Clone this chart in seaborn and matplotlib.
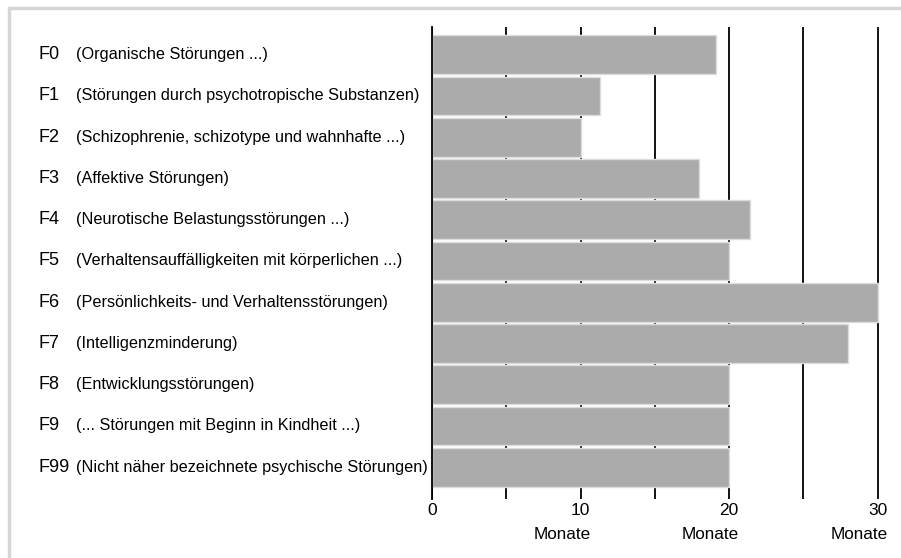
import matplotlib
matplotlib.use("Agg")
import matplotlib.pyplot as plt
import matplotlib.transforms as mtransforms
from matplotlib.lines import Line2D
import seaborn as sns

# Daten
codes = ["F0", "F1", "F2", "F3", "F4", "F5", "F6", "F7", "F8", "F9", "F99"]
beschreibungen = [
    "(Organische Störungen ...)",
    "(Störungen durch psychotropische Substanzen)",
    "(Schizophrenie, schizotype und wahnhafte ...)",
    "(Affektive Störungen)",
    "(Neurotische Belastungsstörungen ...)",
    "(Verhaltensauffälligkeiten mit körperlichen ...)",
    "(Persönlichkeits- und Verhaltensstörungen)",
    "(Intelligenzminderung)",
    "(Entwicklungsstörungen)",
    "(... Störungen mit Beginn in Kindheit ...)",
    "(Nicht näher bezeichnete psychische Störungen)",
]
monate = [19.1, 11.3, 10.0, 18.0, 21.4, 20.0, 30.0, 28.0, 20.0, 20.0, 20.0]
x_ticks = [0, 5, 10, 15, 20, 25, 30]
x_labels = ["0", "", "10", "", "20", "", "30"]

sns.set_theme(style="white")
plt.rcParams["font.family"] = ["Liberation Sans", "DejaVu Sans"]
plt.rcParams["text.color"] = "black"
plt.rcParams["xtick.color"] = "black"

fig = plt.figure(figsize=(9.01, 5.58), dpi=100)
ax = fig.add_axes([0.4795, 0.1057, 0.4978, 0.8459])

sns.barplot(x=monate, y=codes, orient="h", color="#ababab", saturation=1,
            width=0.94, edgecolor="#dcdcdc", linewidth=1, ax=ax)

ax.set_xlim(0, 30.2)
ax.set_ylim(10.77, -0.67)
ax.set_xticks(x_ticks)
ax.set_xticklabels(x_labels, fontsize=12.5)
ax.set_yticks([])
ax.set_xlabel("")
ax.set_ylabel("")
ax.tick_params(axis="x", length=0, pad=3, colors="black")
ax.grid(axis="x", color="black", linewidth=1.3)
ax.set_axisbelow(True)
for s in ["top", "right", "bottom"]:
    ax.spines[s].set_visible(False)
ax.spines["left"].set_color("black")
ax.spines["left"].set_linewidth(1.3)

# "Monate" unter den Zehnerwerten
mon_trans = mtransforms.offset_copy(ax.get_xaxis_transform(), fig=fig, x=10, y=0, units="dots")
for xv in [10, 20, 30]:
    ax.text(xv, -0.06, "Monate", transform=mon_trans, ha="right", va="top", fontsize=12.3)

# Kategorienbeschriftung links
lab_trans = mtransforms.blended_transform_factory(fig.transFigure, ax.transData)
for i, (c, b) in enumerate(zip(codes, beschreibungen)):
    ax.text(38 / 901, i, c, transform=lab_trans, ha="left", va="center", fontsize=13)
    ax.text(76 / 901, i, b, transform=lab_trans, ha="left", va="center", fontsize=11.7)

# Rahmen oben und links
fig.add_artist(Line2D([9 / 901, 1], [1 - 8 / 558] * 2, transform=fig.transFigure,
                      color="#d6d6d6", linewidth=2.5))
fig.add_artist(Line2D([9 / 901] * 2, [0, 1 - 8 / 558], transform=fig.transFigure,
                      color="#d6d6d6", linewidth=2.5))

fig.savefig("out.png", dpi=100)
